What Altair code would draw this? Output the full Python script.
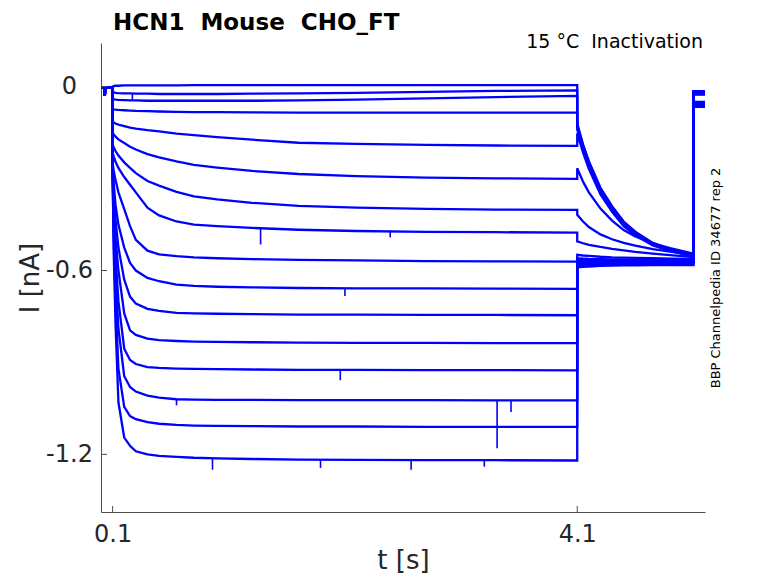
import altair as alt
import pandas as pd

# ---------------- data ----------------
TITLE = "HCN1 \u00a0Mouse \u00a0CHO_FT"
CONDITION = "15 \u00b0C \u00a0Inactivation"
SOURCE_ID = "BBP Channelpedia ID 34677 rep 2"

XTICKS = [0.1, 4.1]
YTICKS = [0.0, -0.6, -1.2]

# holding segment (s, nA)
T_PRE = [0.000, 0.030, 0.033, 0.036, 0.100]
I_PRE = [-0.004, -0.004, -0.030, -0.004, -0.004]

# prepulse segment times (s)
T_STEP = [0.100, 0.110, 0.125, 0.150, 0.200, 0.250, 0.300, 0.400, 0.500,
          0.650, 0.800, 1.000, 1.300, 1.700, 2.200, 2.800, 3.400, 4.100]
STEP_01 = [0.000, 0.002, 0.003, 0.003, 0.004, 0.004, 0.004, 0.004, 0.004, 0.004, 0.005, 0.005, 0.005, 0.005, 0.005, 0.005, 0.005, 0.005]
STEP_02 = [-0.018, -0.019, -0.020, -0.021, -0.022, -0.022, -0.023, -0.023, -0.024, -0.024, -0.024, -0.024, -0.023, -0.022, -0.020, -0.017, -0.014, -0.012]
STEP_03 = [-0.040, -0.041, -0.042, -0.043, -0.044, -0.045, -0.045, -0.046, -0.046, -0.046, -0.046, -0.046, -0.046, -0.045, -0.042, -0.038, -0.034, -0.030]
STEP_04 = [-0.072, -0.074, -0.075, -0.076, -0.077, -0.078, -0.079, -0.080, -0.081, -0.082, -0.083, -0.083, -0.084, -0.085, -0.085, -0.085, -0.085, -0.085]
STEP_05 = [-0.114, -0.117, -0.120, -0.124, -0.129, -0.134, -0.137, -0.142, -0.146, -0.153, -0.158, -0.165, -0.173, -0.183, -0.187, -0.190, -0.192, -0.193]
STEP_06 = [-0.150, -0.156, -0.163, -0.172, -0.184, -0.196, -0.205, -0.220, -0.231, -0.244, -0.255, -0.264, -0.275, -0.285, -0.292, -0.297, -0.299, -0.301]
STEP_07 = [-0.190, -0.198, -0.210, -0.225, -0.247, -0.265, -0.282, -0.308, -0.323, -0.343, -0.358, -0.368, -0.379, -0.389, -0.395, -0.399, -0.401, -0.402]
STEP_08 = [-0.215, -0.228, -0.245, -0.265, -0.295, -0.320, -0.345, -0.395, -0.420, -0.440, -0.450, -0.455, -0.461, -0.467, -0.471, -0.474, -0.475, -0.476]
STEP_09 = [-0.250, -0.275, -0.305, -0.345, -0.400, -0.455, -0.500, -0.535, -0.547, -0.553, -0.557, -0.560, -0.563, -0.565, -0.567, -0.569, -0.570, -0.571]
STEP_10 = [-0.260, -0.320, -0.385, -0.450, -0.525, -0.575, -0.600, -0.624, -0.635, -0.646, -0.650, -0.653, -0.655, -0.657, -0.658, -0.658, -0.659, -0.660]
STEP_11 = [-0.265, -0.350, -0.435, -0.525, -0.630, -0.685, -0.708, -0.725, -0.732, -0.738, -0.740, -0.741, -0.742, -0.744, -0.744, -0.745, -0.745, -0.746]
STEP_12 = [-0.270, -0.390, -0.495, -0.600, -0.740, -0.795, -0.810, -0.822, -0.827, -0.830, -0.832, -0.833, -0.834, -0.835, -0.836, -0.836, -0.837, -0.837]
STEP_13 = [-0.275, -0.430, -0.555, -0.700, -0.855, -0.892, -0.905, -0.915, -0.918, -0.920, -0.921, -0.922, -0.923, -0.924, -0.924, -0.925, -0.925, -0.926]
STEP_14 = [-0.280, -0.470, -0.615, -0.790, -0.945, -0.980, -0.995, -1.008, -1.015, -1.020, -1.021, -1.022, -1.022, -1.023, -1.023, -1.023, -1.024, -1.024]
STEP_15 = [-0.285, -0.510, -0.695, -0.920, -1.045, -1.075, -1.085, -1.095, -1.100, -1.104, -1.106, -1.107, -1.108, -1.109, -1.109, -1.110, -1.110, -1.110]
STEP_16 = [-0.290, -0.550, -0.775, -1.030, -1.145, -1.172, -1.190, -1.200, -1.205, -1.208, -1.211, -1.213, -1.215, -1.217, -1.218, -1.219, -1.219, -1.220]

# test pulse (tail) segment
T_TAIL = [4.100, 4.150, 4.200, 4.300, 4.400, 4.500, 4.600, 4.750, 4.900, 5.100]
TAIL_01 = [-0.120, -0.188, -0.243, -0.330, -0.390, -0.440, -0.473, -0.510, -0.530, -0.550]
TAIL_02 = [-0.125, -0.192, -0.247, -0.334, -0.394, -0.443, -0.476, -0.511, -0.531, -0.551]
TAIL_03 = [-0.130, -0.196, -0.250, -0.337, -0.396, -0.445, -0.478, -0.513, -0.532, -0.552]
TAIL_04 = [-0.140, -0.203, -0.258, -0.345, -0.402, -0.450, -0.481, -0.515, -0.534, -0.553]
TAIL_05 = [-0.152, -0.215, -0.268, -0.352, -0.408, -0.455, -0.485, -0.518, -0.536, -0.555]
TAIL_06 = [-0.266, -0.310, -0.345, -0.398, -0.437, -0.468, -0.489, -0.511, -0.527, -0.545]
TAIL_07 = [-0.418, -0.440, -0.458, -0.482, -0.498, -0.510, -0.519, -0.530, -0.538, -0.549]
TAIL_08 = [-0.505, -0.511, -0.516, -0.523, -0.529, -0.534, -0.539, -0.545, -0.550, -0.556]
TAIL_09 = [-0.549, -0.551, -0.552, -0.555, -0.557, -0.558, -0.559, -0.560, -0.561, -0.562]
TAIL_10 = [-0.560, -0.561, -0.562, -0.563, -0.564, -0.564, -0.565, -0.565, -0.566, -0.566]
TAIL_11 = [-0.566, -0.566, -0.567, -0.567, -0.567, -0.568, -0.568, -0.568, -0.568, -0.569]
TAIL_12 = [-0.571, -0.571, -0.571, -0.571, -0.572, -0.572, -0.572, -0.572, -0.572, -0.572]
TAIL_13 = [-0.576, -0.576, -0.575, -0.575, -0.575, -0.575, -0.575, -0.575, -0.575, -0.575]
TAIL_14 = [-0.580, -0.580, -0.579, -0.579, -0.578, -0.578, -0.578, -0.578, -0.578, -0.578]
TAIL_15 = [-0.585, -0.584, -0.583, -0.582, -0.581, -0.581, -0.580, -0.580, -0.580, -0.580]
TAIL_16 = [-0.590, -0.588, -0.587, -0.585, -0.584, -0.583, -0.583, -0.582, -0.582, -0.582]

# return to holding
T_END = [5.100, 5.200]
END_LEVEL = [-0.015, -0.016, -0.018, -0.019, -0.021, -0.022, -0.024, -0.026,
             -0.050, -0.052, -0.054, -0.057, -0.059, -0.061, -0.064, -0.066]

# short noise spikes (time, trace level, spike tip)
SPIKE_T = [0.27, 1.374, 2.49, 2.10, 2.06, 0.65, 3.53, 3.41, 0.96, 1.89, 2.67, 3.30, 4.10]
SPIKE_FROM = [-0.022, -0.463, -0.470, -0.658, -0.924, -1.020, -1.023, -1.022, -1.213, -1.217, -1.219, -1.219, -0.585]
SPIKE_TO = [-0.045, -0.515, -0.492, -0.683, -0.958, -1.040, -1.062, -1.180, -1.250, -1.244, -1.250, -1.240, -0.620]

STEPS = [STEP_01, STEP_02, STEP_03, STEP_04, STEP_05, STEP_06, STEP_07, STEP_08,
         STEP_09, STEP_10, STEP_11, STEP_12, STEP_13, STEP_14, STEP_15, STEP_16]
TAILS = [TAIL_01, TAIL_02, TAIL_03, TAIL_04, TAIL_05, TAIL_06, TAIL_07, TAIL_08,
         TAIL_09, TAIL_10, TAIL_11, TAIL_12, TAIL_13, TAIL_14, TAIL_15, TAIL_16]

rows = []
for n, (step, tail, end) in enumerate(zip(STEPS, TAILS, END_LEVEL)):
    k = 0
    seq = list(zip(T_PRE, I_PRE)) + list(zip(T_STEP, step)) + list(zip(T_TAIL, tail)) + [(t, end) for t in T_END]
    for t, v in seq:
        rows.append({"trace": n, "k": k, "t": t, "I": v})
        k += 1
df = pd.DataFrame(rows)

BLUE = "#0000ff"
AX = "#4d4d4d"
TXT = "#262626"
FONT = "DejaVu Sans"
W, H = 604, 469

xscale = alt.Scale(domain=[0, 5.2], nice=False, zero=False)
yscale = alt.Scale(domain=[-1.388, 0.1425], nice=False, zero=False)

xaxis = alt.Axis(values=XTICKS, format=".1f", title="t [s]", ticks=False, grid=False,
                 domainColor=AX, domainWidth=1, labelFont=FONT, labelFontSize=24,
                 labelColor=TXT, labelPadding=10, labelFlush=False,
                 titleFont=FONT, titleFontSize=26, titleFontWeight="normal", titleColor=TXT,
                 titleX=W / 2, titleY=56, titleBaseline="alphabetic", titleAlign="center")
yaxis = alt.Axis(values=YTICKS, title="I [nA]", ticks=False, grid=False,
                 labelExpr="datum.value == 0 ? '0' : '-' + format(abs(datum.value), '.1f')",
                 domainColor=AX, domainWidth=1, labelFont=FONT, labelFontSize=24,
                 labelColor=TXT, labelPadding=32, labelAlign="center", labelBaseline="middle",
                 labelFlush=False,
                 titleFont=FONT, titleFontSize=26, titleFontWeight="normal", titleColor=TXT,
                 titleAngle=270, titleX=-71, titleY=H / 2, titleBaseline="middle", titleAlign="center")

lines = alt.Chart(df).mark_line(color=BLUE, strokeWidth=2.3).encode(
    x=alt.X("t:Q", scale=xscale, axis=xaxis),
    y=alt.Y("I:Q", scale=yscale, axis=yaxis),
    detail="trace:N",
    order="k:Q",
)

spikes = alt.Chart(pd.DataFrame({"t": SPIKE_T, "I": SPIKE_FROM, "I2": SPIKE_TO})).mark_rule(
    color=BLUE, strokeWidth=1.6).encode(x="t:Q", y="I:Q", y2="I2:Q")

xt = alt.Chart(pd.DataFrame({"t": XTICKS})).mark_rule(color=AX, strokeWidth=1).encode(
    x="t:Q", y=alt.value(H), y2=alt.value(H - 6))
yt = alt.Chart(pd.DataFrame({"I": YTICKS})).mark_rule(color=AX, strokeWidth=1).encode(
    y="I:Q", x=alt.value(0), x2=alt.value(6))

title_t = alt.Chart(pd.DataFrame({"s": [TITLE]})).mark_text(
    align="left", baseline="alphabetic", font=FONT, fontSize=23, fontWeight="bold", color="black"
).encode(x=alt.value(12), y=alt.value(-13), text="s:N")

cond_t = alt.Chart(pd.DataFrame({"s": [CONDITION]})).mark_text(
    align="right", baseline="alphabetic", font=FONT, fontSize=19, color="black"
).encode(x=alt.value(602), y=alt.value(5), text="s:N")

id_t = alt.Chart(pd.DataFrame({"s": [SOURCE_ID]})).mark_text(
    align="center", baseline="middle", font=FONT, fontSize=13, angle=270, color="black"
).encode(x=alt.value(615), y=alt.value(235), text="s:N")

chart = alt.layer(lines, spikes, xt, yt, title_t, cond_t, id_t).properties(
    width=W, height=H,
    autosize=alt.AutoSizeParams(type="none"),
    padding={"left": 93, "top": 35, "right": 60, "bottom": 63},
    background="white",
).configure_view(strokeWidth=0)

chart.save("out.html", embed_options={"renderer": "svg", "actions": False})
